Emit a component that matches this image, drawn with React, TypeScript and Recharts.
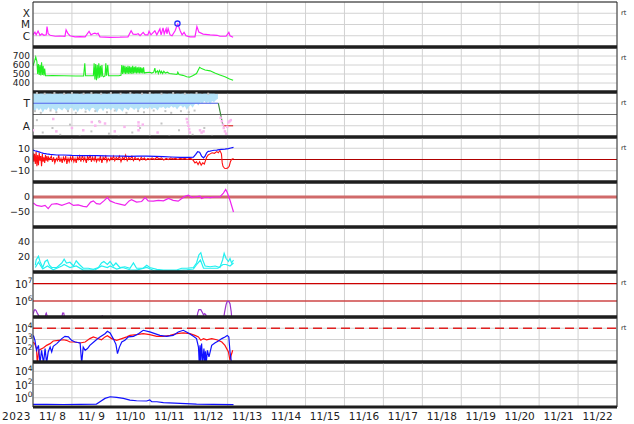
import { ComposedChart, Line, Area, Scatter, XAxis, YAxis, CartesianGrid, ReferenceLine } from 'recharts';

const FONT = '"DejaVu Sans", Verdana, sans-serif';
const W = 634;
const TOP = 1.7;
const PH = 45;
const PAD = 3;
const AXIS_H = 20;

const DAY_GRID = [0, 1, 2, 3, 4, 5, 6, 7, 8, 9, 10, 11, 12, 13, 14, 15];
const DATE_TICKS = [0.5, 1.5, 2.5, 3.5, 4.5, 5.5, 6.5, 7.5, 8.5, 9.5, 10.5, 11.5, 12.5, 13.5, 14.5];
const DATE_LABELS = ['11/ 8', '11/ 9', '11/10', '11/11', '11/12', '11/13', '11/14', '11/15', '11/16', '11/17', '11/18', '11/19', '11/20', '11/21', '11/22'];
const YEAR_LABEL = '2023';

type Pt = [number, number];

// panel 1: x-ray flux (W/m2), flare classes
const XRAY_TICKS = [1e-6, 1e-5, 1e-4];
const XRAY_LABELS = ['C', 'M', 'X'];
const XRAY: Pt[] = [
  [0, 1.2e-6], [0.05, 2.1e-6], [0.08, 1.2e-6], [0.13, 2.6e-6], [0.18, 1.1e-6], [0.23, 1.5e-6], [0.28, 1.1e-6],
  [0.34, 1.2e-6], [0.36, 6.6e-6], [0.39, 1.5e-6], [0.44, 1.1e-6], [0.57, 9e-7], [0.69, 9.5e-7], [0.82, 9e-7],
  [0.85, 3.3e-6], [0.9, 1.5e-6], [0.95, 1e-6], [1.08, 8e-7], [1.21, 8.5e-7], [1.34, 8e-7], [1.44, 2.5e-6],
  [1.49, 1.2e-6], [1.54, 1.5e-6], [1.59, 1.7e-6], [1.64, 1.4e-6], [1.67, 1.7e-6], [1.72, 8e-7], [1.98, 7.3e-7],
  [2.23, 7.5e-7], [2.44, 8e-7], [2.52, 2.8e-6], [2.57, 1.4e-6], [2.65, 1.3e-6], [2.7, 1.5e-6], [2.75, 1e-6],
  [2.83, 2e-6], [2.88, 1.2e-6], [2.95, 1.2e-6], [2.98, 2.5e-6], [3.03, 1.2e-6], [3.13, 2.8e-6], [3.18, 1.2e-6],
  [3.26, 4.1e-6], [3.29, 1.2e-6], [3.34, 5e-6], [3.37, 1.5e-6], [3.42, 4.1e-6], [3.44, 1.5e-6], [3.47, 4.3e-6],
  [3.52, 1.2e-6], [3.57, 1e-6], [3.65, 2.8e-6], [3.69, 6.6e-6], [3.72, 1.1e-5], [3.78, 2.8e-6], [3.83, 1.2e-6],
  [3.88, 2e-6], [3.93, 1e-6], [4.03, 8e-7], [4.16, 8e-7], [4.21, 6.6e-6], [4.26, 2.1e-6], [4.37, 1.4e-6],
  [4.55, 1.2e-6], [4.73, 1.1e-6], [4.8, 9e-7], [4.96, 9e-7], [5.03, 2e-6], [5.06, 1e-6], [5.14, 7.3e-7],
];
const FLARE_MARK: Pt[] = [[3.71, 1.2e-5]];

// panel 2: solar wind speed (km/s)
const WIND_TICKS = [400, 500, 600, 700];
const WIND: Pt[] = [
  [0, 590], [0.04, 640], [0.07, 690], [0.1, 640], [0.12, 500], [0.14, 610], [0.16, 490], [0.18, 600], [0.2, 485],
  [0.22, 630], [0.24, 490], [0.26, 590], [0.28, 485], [0.3, 560], [0.32, 480], [0.5, 482], [0.8, 480], [1.1, 478],
  [1.3, 478], [1.33, 620], [1.35, 480], [1.55, 482], [1.57, 620], [1.59, 440], [1.61, 610], [1.63, 430],
  [1.65, 600], [1.67, 450], [1.69, 620], [1.71, 460], [1.73, 590], [1.75, 470], [1.77, 600], [1.79, 480],
  [1.81, 470], [1.85, 480], [1.87, 620], [1.89, 482], [1.92, 600], [1.94, 482], [2.0, 480], [2.2, 480],
  [2.26, 485], [2.28, 600], [2.3, 500], [2.32, 595], [2.34, 505], [2.36, 590], [2.38, 500], [2.4, 580],
  [2.42, 505], [2.44, 590], [2.46, 500], [2.48, 585], [2.5, 505], [2.52, 580], [2.54, 500], [2.56, 590],
  [2.58, 505], [2.6, 580], [2.62, 510], [2.64, 585], [2.66, 505], [2.68, 575], [2.7, 510], [2.72, 580],
  [2.74, 505], [2.76, 575], [2.78, 510], [2.8, 570], [2.82, 505], [2.84, 575], [2.86, 510], [2.9, 515],
  [3.0, 520], [3.05, 510], [3.1, 520], [3.13, 565], [3.15, 515], [3.2, 535], [3.22, 505], [3.25, 540],
  [3.28, 510], [3.3, 530], [3.33, 505], [3.36, 530], [3.4, 510], [3.45, 520], [3.5, 505], [3.6, 500],
  [3.7, 495], [3.72, 520], [3.75, 495], [3.85, 485], [3.95, 470], [4.02, 465], [4.1, 480], [4.2, 505],
  [4.28, 575], [4.33, 560], [4.42, 545], [4.55, 535], [4.67, 510], [4.8, 490], [4.93, 470], [5.05, 445], [5.14, 430],
];

// panel 3: IMF sector (T / A)
const SECTOR_TICKS = [-1, 1];
const SECTOR_LABELS = ['A', 'T'];
const BAND: [number, number, number][] = [
  [0, 0.5, 1.95], [0.05, 0.25, 1.88], [0.1, 0.6, 1.92], [0.15, 0.35, 1.8], [0.2, 0.55, 1.95], [0.25, 0.15, 1.9],
  [0.3, 0.5, 1.85], [0.35, 0.4, 1.95], [0.4, 0.65, 1.88], [0.45, 0.3, 1.92], [0.5, 0.55, 1.8], [0.55, 0.45, 1.95],
  [0.6, 0.2, 1.9], [0.65, 0.6, 1.85], [0.7, 0.5, 1.95], [0.75, 0.35, 1.88], [0.8, 0.6, 1.92], [0.85, 0.45, 1.8],
  [0.9, 0.25, 1.95], [0.95, 0.55, 1.9], [1.0, 0.6, 1.85], [1.05, 0.3, 1.95], [1.1, 0.5, 1.88], [1.15, 0.2, 1.92],
  [1.2, 0.55, 1.8], [1.25, 0.45, 1.95], [1.3, 0.6, 1.9], [1.35, 0.35, 1.85], [1.4, 0.5, 1.95], [1.45, 0.25, 1.88],
  [1.5, 0.55, 1.92], [1.55, 0.6, 1.8], [1.6, 0.4, 1.95], [1.65, 0.15, 1.9], [1.7, 0.5, 1.85], [1.75, 0.55, 1.95],
  [1.8, 0.3, 1.88], [1.85, 0.6, 1.92], [1.9, 0.45, 1.8], [1.95, 0.55, 1.95], [2.0, 0.35, 1.9], [2.05, 0.6, 1.85],
  [2.1, 0.5, 1.95], [2.15, 0.2, 1.88], [2.2, 0.55, 1.92], [2.25, 0.45, 1.8], [2.3, 0.25, 1.95], [2.35, 0.6, 1.9],
  [2.4, 0.5, 1.85], [2.45, 0.35, 1.95], [2.5, 0.65, 1.88], [2.55, 0.55, 1.92], [2.6, 0.4, 1.8], [2.65, 0.6, 1.95],
  [2.7, 0.3, 1.9], [2.75, 0.55, 1.85], [2.8, 0.65, 1.95], [2.85, 0.45, 1.88], [2.9, 0.6, 1.92], [2.95, 0.5, 1.8],
  [3.0, 0.7, 1.95], [3.05, 0.45, 1.9], [3.1, 0.6, 1.85], [3.15, 0.55, 1.95], [3.2, 0.35, 1.88], [3.25, 0.65, 1.92],
  [3.3, 0.6, 1.8], [3.35, 0.7, 1.95], [3.4, 0.5, 1.9], [3.45, 0.65, 1.85], [3.5, 0.55, 1.95], [3.55, 0.75, 1.88],
  [3.6, 0.6, 1.92], [3.65, 0.7, 1.8], [3.7, 0.45, 1.95], [3.75, 0.7, 1.9], [3.8, 0.8, 1.85], [3.85, 0.6, 1.95],
  [3.9, 0.75, 1.88], [3.95, 0.4, 1.92], [4.0, 0.7, 1.8], [4.05, 0.85, 1.95], [4.1, 0.6, 1.9], [4.15, 0.9, 1.85],
  [4.2, 1.0, 1.95], [4.25, 0.8, 1.88], [4.3, 1.1, 1.92], [4.35, 0.95, 1.8], [4.4, 1.2, 1.95], [4.45, 1.0, 1.9],
  [4.5, 1.15, 1.85], [4.55, 0.9, 1.95], [4.6, 1.2, 1.88], [4.65, 1.1, 1.92], [4.7, 1.3, 1.8], [4.75, 1.4, 1.85],
];
const GREY_PTS: Pt[] = [
  [0.1, 1.9], [0.3, 1.85], [0.55, 1.9], [0.8, 1.85], [1.0, 1.9], [1.3, 1.85], [1.5, 1.9], [1.75, 1.85],
  [2.0, 1.9], [2.25, 1.85], [2.5, 1.9], [2.8, 1.85], [3.0, 1.9], [3.3, 1.85], [3.6, 1.9], [3.9, 1.85],
  [4.2, 1.9], [4.5, 1.85], [0.05, 0.3], [0.2, 0.15], [0.45, 0.35], [0.6, 0.2], [0.9, 0.3], [1.1, 0.15],
  [1.35, 0.25], [1.6, 0.3], [1.9, 0.2], [2.1, 0.35], [2.4, 0.15], [2.7, 0.3], [2.85, 0.2], [3.1, 0.35],
  [3.4, 0.3], [3.55, 0.15], [3.8, 0.3], [4.0, 0.2], [4.15, 0.35], [0.1, -0.5], [0.25, -1.6], [0.5, -1.2],
  [0.7, -1.8], [0.95, -0.9], [1.2, -1.9], [1.5, -1.5], [1.7, -0.6], [1.95, -1.7], [2.2, -1.9], [2.55, -1.6],
  [2.75, -1.2], [3.0, -1.9], [3.3, -0.8], [3.5, -1.9], [3.75, -1.4], [4.1, -1.8], [4.4, -1.2], [4.6, -1.9],
];
const PINK_PTS: Pt[] = [
  [0.0, -1.4], [0.52, -0.4], [0.6, -1.5], [1.0, -1.2], [1.29, -1.4], [1.51, -0.67], [1.6, -1.0], [1.72, -0.67],
  [1.85, -0.8], [2.1, -1.5], [2.35, -1.1], [2.71, -0.7], [2.71, -1.0], [2.71, -1.4], [2.82, -0.9], [3.2, -1.6],
  [3.95, -0.4], [3.97, -0.7], [3.99, -1.0], [4.01, -1.3], [4.03, -1.6], [4.29, -1.4], [4.33, -1.6], [4.38, -1.5],
  [4.82, -0.3], [4.85, -0.6], [4.88, -0.9], [4.9, -1.2], [4.93, -1.5], [4.96, -1.7], [4.99, -1.1], [5.02, -0.7],
  [5.05, -0.6], [5.08, -0.5],
];
const SECTOR_AWAY: Pt[] = [[0, 1], [4.76, 1]];
const SECTOR_SWITCH: Pt[] = [[4.76, 1], [4.88, -1]];
const SECTOR_TOWARD: Pt[] = [[4.88, -1], [5.14, -1]];

// panel 4: IMF Bt / Bz (nT)
const IMF_TICKS = [-10, 0, 10];
const BT: Pt[] = [
  [0, 8.4], [0.05, 7.8], [0.09, 7.5], [0.15, 6.8], [0.2, 6.2], [0.27, 5.5], [0.35, 5.0], [0.44, 4.6], [0.61, 4.0],
  [0.78, 4.0], [1.0, 3.6], [1.21, 3.4], [1.4, 3.5], [1.64, 3.4], [1.85, 3.2], [2.06, 3.1], [2.3, 3.0], [2.49, 2.8],
  [2.7, 3.0], [2.92, 3.0], [3.15, 2.7], [3.35, 2.5], [3.55, 2.2], [3.78, 1.9], [4.0, 1.9], [4.12, 2.0],
  [4.18, 4.5], [4.23, 7], [4.28, 6.5], [4.33, 3], [4.38, 1.5], [4.42, 3], [4.46, 6], [4.5, 7.2], [4.55, 7.5],
  [4.59, 7.8], [4.65, 8.2], [4.72, 8.4], [4.78, 8.8], [4.85, 9], [4.93, 9.2], [5.02, 9.6], [5.08, 10.2], [5.15, 10.8],
];
const BZ: Pt[] = [
  [0, 6], [0.02, -2], [0.04, 5], [0.06, -4], [0.08, 7], [0.1, -6], [0.12, 4], [0.14, -5], [0.16, 6], [0.18, -1],
  [0.2, 3], [0.22, -6], [0.24, 5], [0.26, -2], [0.28, 2], [0.3, -3], [0.32, 4], [0.34, -1], [0.36, 3], [0.38, -2],
  [0.4, 2], [0.43, 0], [0.47, 3], [0.5, -2], [0.53, 2], [0.56, -3], [0.6, 1], [0.63, -1], [0.66, 4], [0.69, -2],
  [0.72, 1], [0.75, -3], [0.78, 2], [0.81, -1], [0.84, 3], [0.87, -4], [0.9, 1], [0.93, -2], [0.96, 2], [0.99, -1],
  [1.02, 3], [1.05, -2], [1.08, 1], [1.11, -3], [1.14, 2], [1.17, 0], [1.2, 3], [1.23, -2], [1.27, 4], [1.3, -1],
  [1.33, 2], [1.37, -3], [1.4, 3], [1.43, 0], [1.47, 4], [1.5, -2], [1.53, 2], [1.57, -1], [1.6, 3], [1.63, -2],
  [1.67, 1], [1.7, -1], [1.73, 3], [1.77, -3], [1.8, 2], [1.83, 0], [1.87, 3], [1.9, -2], [1.93, 1], [1.97, -1],
  [2.0, 2], [2.03, 0], [2.07, 3], [2.1, -1], [2.14, 2], [2.18, 0], [2.22, 3], [2.26, -2], [2.3, 2], [2.34, 0],
  [2.38, 4], [2.42, -1], [2.46, 2], [2.5, 0], [2.54, 3], [2.58, -1], [2.62, 2], [2.66, 0], [2.7, 1], [2.74, -1],
  [2.78, 2], [2.82, 0], [2.86, 1.5], [2.9, -0.5], [2.95, 1], [3.0, 0], [3.06, 1.5], [3.12, 0], [3.18, 2],
  [3.24, 0.5], [3.3, 1.5], [3.36, -0.5], [3.42, 1], [3.48, 0], [3.54, 1.5], [3.6, 0.5], [3.66, 1], [3.72, 0],
  [3.78, 1], [3.84, 0.5], [3.9, 1], [3.96, 0], [4.02, 1], [4.08, 0.5], [4.12, -1], [4.16, -3], [4.2, -2],
  [4.24, -4.5], [4.28, -2], [4.32, -5], [4.36, -3], [4.4, -4], [4.43, -1], [4.46, 2], [4.5, 4], [4.55, 5],
  [4.6, 6], [4.66, 5.5], [4.72, 7], [4.76, 6], [4.8, 8], [4.84, 5], [4.86, -3], [4.88, -6], [4.92, -7.8],
  [4.96, -8], [5.0, -7.5], [5.04, -6], [5.07, -2], [5.1, 0], [5.15, 1],
];

// panel 5: Dst (nT)
const DST_TICKS = [-50, 0];
const DST: Pt[] = [
  [0.01, -20], [0.09, -28], [0.22, -31], [0.31, -28], [0.39, -39], [0.48, -24], [0.61, -22], [0.74, -28],
  [0.82, -24], [0.93, -19], [1.04, -28], [1.16, -26], [1.29, -31], [1.38, -33], [1.48, -17], [1.55, -13],
  [1.63, -22], [1.72, -24], [1.82, -13], [1.91, -2], [1.98, -13], [2.11, -20], [2.23, -24], [2.36, -28],
  [2.47, -13], [2.53, -9], [2.66, -17], [2.79, -15], [2.88, -2], [2.96, -13], [3.09, -14], [3.22, -11],
  [3.35, -13], [3.48, -5], [3.6, -11], [3.73, -14], [3.82, -5], [3.9, 2], [3.99, 6], [4.08, -2], [4.16, 0],
  [4.25, 2], [4.29, 3], [4.33, -5], [4.42, 0], [4.55, -2], [4.67, 0], [4.8, 0], [4.89, 13], [4.95, 25],
  [4.99, 15], [5.06, -11], [5.15, -50],
];

// panel 6: two cyan indices
const IDX_TICKS = [20, 40];
const IDX_A: Pt[] = [
  [0.06, 9], [0.08, 16], [0.14, 21], [0.18, 14], [0.25, 6], [0.31, 14], [0.37, 16], [0.42, 9], [0.48, 6],
  [0.61, 6], [0.74, 12], [0.8, 17], [0.86, 12], [0.95, 13], [1.04, 8], [1.11, 15], [1.19, 10], [1.29, 5],
  [1.42, 5], [1.55, 3.6], [1.68, 6], [1.76, 12], [1.82, 14], [1.91, 10], [1.98, 14], [2.06, 8], [2.13, 12],
  [2.23, 6], [2.36, 7], [2.49, 5], [2.58, 12], [2.66, 5], [2.83, 5], [2.92, 9], [3.0, 6], [3.18, 3.6],
  [3.35, 2.7], [3.52, 2.7], [3.69, 2.7], [3.82, 5], [3.95, 5], [4.12, 6], [4.2, 12], [4.26, 22.7], [4.31, 25.8],
  [4.36, 16], [4.42, 8], [4.55, 7], [4.68, 8], [4.8, 6], [4.87, 16], [4.91, 25], [4.96, 18], [5.02, 14],
  [5.06, 18], [5.1, 12], [5.15, 16],
];
const IDX_B: Pt[] = [
  [0.06, 6], [0.14, 13], [0.25, 4], [0.37, 8], [0.52, 3], [0.74, 8], [0.8, 10], [0.95, 6], [1.11, 8],
  [1.29, 2.5], [1.6, 3], [1.76, 8], [1.91, 6], [1.98, 8], [2.15, 4], [2.3, 6], [2.49, 3], [2.66, 2.5],
  [2.92, 6], [3.1, 2], [3.35, 1.5], [3.7, 2], [3.95, 3], [4.12, 4], [4.22, 11], [4.3, 16], [4.38, 5],
  [4.55, 5], [4.75, 5], [4.88, 10], [4.96, 10], [5.06, 8], [5.15, 12],
];

// panel 7: proton flux
const PROTON_TICKS = [1e6, 1e7];
const PROTON: Pt[] = [
  [0, 1.6e5], [0.03, 2.8e5], [0.05, 3.2e5], [0.08, 2.8e5], [0.11, 2e5], [0.15, 1.4e5], [0.18, 8e4],
  [0.3, 8e4], [0.33, 1.8e5], [0.34, 2e5], [0.37, 1.26e5], [0.39, 8e4], [0.73, 8e4], [0.76, 2e5], [0.79, 2e5],
  [0.81, 1.1e5], [0.84, 8e4], [1.76, 8e4], [1.78, 1.5e5], [1.81, 8e4], [4.2, 8e4], [4.23, 2e5], [4.26, 3.2e5],
  [4.31, 3.2e5], [4.35, 2.2e5], [4.38, 1.6e5], [4.41, 1.9e5], [4.44, 1.6e5], [4.47, 8e4], [4.89, 8e4],
  [4.92, 2.2e5], [4.96, 6.3e5], [4.99, 9.5e5], [5.03, 9.5e5], [5.06, 7e5], [5.09, 2.5e5], [5.11, 8e4],
];

// panel 8: electron flux
const ELEC_TICKS = [1e2, 1e3, 1e4];
const ELEC_BLUE: Pt[] = [
  [0.01, 2300], [0.05, 850], [0.09, 110], [0.14, 300], [0.18, 8], [0.22, 110], [0.27, 8], [0.31, 155], [0.35, 8],
  [0.39, 78], [0.44, 210], [0.48, 78], [0.52, 250], [0.61, 430], [0.74, 1200], [0.82, 1900], [0.91, 1700],
  [0.99, 850], [1.08, 600], [1.21, 490], [1.25, 8], [1.29, 210], [1.34, 110], [1.4, 155], [1.46, 300],
  [1.59, 740], [1.72, 1700], [1.85, 3300], [1.91, 5400], [1.98, 3800], [2.06, 1200], [2.13, 370], [2.17, 56],
  [2.22, 210], [2.28, 600], [2.36, 850], [2.45, 1700], [2.58, 1900], [2.71, 3300], [2.83, 6600], [3.0, 4700],
  [3.13, 3300], [3.26, 2300], [3.43, 1900], [3.6, 2300], [3.73, 4700], [3.86, 6600], [3.99, 3800], [4.12, 1900],
  [4.2, 1200], [4.25, 210], [4.27, 8], [4.29, 300], [4.31, 8], [4.33, 430], [4.36, 8], [4.39, 155], [4.41, 8],
  [4.43, 90], [4.45, 8], [4.48, 110], [4.52, 28], [4.59, 300], [4.67, 490], [4.76, 740], [4.85, 1200],
  [4.93, 1700], [4.99, 2300], [5.03, 1700], [5.06, 78], [5.1, 8],
];
const ELEC_RED: Pt[] = [
  [0.01, 600], [0.05, 370], [0.09, 155], [0.11, 8], [0.15, 110], [0.18, 126], [0.27, 186], [0.35, 300],
  [0.44, 430], [0.52, 740], [0.65, 850], [0.78, 950], [0.86, 850], [0.95, 600], [1.08, 600], [1.21, 490],
  [1.34, 600], [1.46, 1200], [1.55, 1700], [1.63, 1350], [1.76, 950], [1.85, 1700], [1.91, 2200], [2.02, 1200],
  [2.15, 850], [2.28, 1200], [2.41, 1700], [2.49, 2300], [2.66, 2700], [2.83, 3300], [3.0, 2700], [3.18, 1900],
  [3.35, 1900], [3.52, 2300], [3.69, 3300], [3.86, 3800], [4.03, 3300], [4.16, 2300], [4.25, 1700], [4.31, 850],
  [4.38, 1200], [4.46, 950], [4.59, 1200], [4.72, 950], [4.85, 600], [4.93, 300], [5.02, 78], [5.06, 14],
  [5.09, 40], [5.13, 110],
];

// panel 9: high energy flux
const HE_TICKS = [1, 1e2, 1e4];
const HE_FLUX: Pt[] = [
  [0, 0.1], [0.35, 0.1], [0.78, 0.095], [1.21, 0.1], [1.63, 0.11], [1.72, 0.25], [1.85, 0.8], [1.98, 1.4],
  [2.15, 1.15], [2.32, 0.8], [2.49, 0.45], [2.66, 0.35], [2.92, 0.32], [3.0, 0.45], [3.05, 0.25], [3.18, 0.25],
  [3.35, 0.18], [3.78, 0.14], [4.2, 0.11], [4.63, 0.1], [5.15, 0.09],
];

const RT_PANELS = [0, 1, 2, 3, 6, 7];

const pts = (a: Pt[]) => a.map(([t, v]) => ({ t, v }));

const minus = (v: number) => (v < 0 ? '\u2212' + Math.abs(v) : String(v));

function makeTextTick(fmt: (v: number) => string, size = 9.5) {
  return ({ x, y, payload }: any) => (
    <text x={x} y={y} dy="0.36em" textAnchor="end" fontSize={size} fontFamily={FONT} fill="#222">
      {fmt(payload.value)}
    </text>
  );
}

function SupTick({ x, y, payload }: any) {
  const e = Math.round(Math.log10(payload.value));
  return (
    <text x={x + 2.5} y={y + 4} textAnchor="end" fontSize={10} fontFamily={FONT} fill="#222">
      10<tspan dy={-4.3} fontSize={7.5}>{e}</tspan>
    </text>
  );
}

function DateTick({ x, y, payload }: any) {
  const i = DATE_TICKS.indexOf(payload.value);
  return (
    <g>
      {i === 0 && (
        <text x={2} y={y + 12.6} textAnchor="start" fontSize={10.5} letterSpacing={0.6} fontFamily={FONT} fill="#222">
          {YEAR_LABEL}
        </text>
      )}
      <text x={x} y={y + 12.6} textAnchor="middle" fontSize={10.5} fontFamily={FONT} fill="#222" style={{ whiteSpace: 'pre' }}>
        {DATE_LABELS[i]}
      </text>
    </g>
  );
}

const dot = (color: string, s: number) => (p: any) => (
  <rect x={p.cx - s / 2} y={p.cy - s / 2} width={s} height={s} fill={color} />
);

function Panel({ i, domain, ticks, log, tick, data, axis, children }: any) {
  const h = PH + PAD + (axis ? AXIS_H : PAD);
  return (
    <div style={{ position: 'absolute', left: 0, top: TOP + PH * i - PAD }}>
      <ComposedChart width={W} height={h} data={data} margin={{ top: PAD, right: 17, bottom: axis ? 0 : PAD, left: 0 }}>
        {axis ? (
          <XAxis type="number" dataKey="t" domain={[0, 15]} ticks={DATE_TICKS} interval={0} allowDataOverflow
            axisLine={false} tickLine={false} tickSize={0} tickMargin={0} height={AXIS_H} tick={DateTick} />
        ) : (
          <XAxis type="number" dataKey="t" domain={[0, 15]} ticks={DAY_GRID} interval={0} hide height={0} allowDataOverflow />
        )}
        <YAxis type="number" domain={domain} ticks={ticks} interval={0} scale={log ? 'log' : 'linear'} allowDataOverflow
          width={33} axisLine={false} tickLine={false} tickSize={0} tickMargin={3} tick={tick} />
        <CartesianGrid stroke="#d2d2d2" strokeWidth={1} vertical={!axis} />
        {axis && DAY_GRID.map((d) => <ReferenceLine key={'g' + d} x={d} stroke="#d2d2d2" />)}
        {children}
        <ReferenceLine x={0} stroke="#333" ifOverflow="visible" />
        <ReferenceLine x={15} stroke="#333" ifOverflow="visible" />
        <ReferenceLine y={domain[1]} stroke="#1e1e1e" strokeWidth={i === 0 ? 1 : 3} ifOverflow="visible" />
        <ReferenceLine y={domain[0]} stroke="#1e1e1e" strokeWidth={3} ifOverflow="visible" />
      </ComposedChart>
    </div>
  );
}

export default function App() {
  const band = BAND.map(([t, lo, hi]) => ({ t, band: [lo, hi] }));
  return (
    <div style={{ position: 'absolute', left: 0, top: 0, width: W, height: 424, background: '#fff', overflow: 'hidden' }}>
      <Panel i={0} domain={[1e-7, 1e-3]} ticks={XRAY_TICKS} log
        tick={makeTextTick((v) => XRAY_LABELS[XRAY_TICKS.findIndex((u) => Math.abs(u - v) / u < 1e-6)] ?? '', 10.5)}>
        <Line data={pts(XRAY)} dataKey="v" stroke="#ff22ff" strokeWidth={1.2} dot={false} isAnimationActive={false} />
        <Scatter data={pts(FLARE_MARK)} dataKey="v" isAnimationActive={false}
          shape={(p: any) => <circle cx={p.cx} cy={p.cy} r={2.6} fill="none" stroke="#2233ff" strokeWidth={1.3} />} />
      </Panel>

      <Panel i={1} domain={[300, 800]} ticks={WIND_TICKS} tick={makeTextTick(minus, 9)}>
        <Line data={pts(WIND)} dataKey="v" stroke="#22ee22" strokeWidth={1.1} dot={false} isAnimationActive={false} />
      </Panel>

      <Panel i={2} domain={[-2, 2]} ticks={SECTOR_TICKS} data={band}
        tick={makeTextTick((v) => SECTOR_LABELS[SECTOR_TICKS.indexOf(v)] ?? '', 10.5)}>
        <Area dataKey="band" type="linear" stroke="none" fill="#acdff7" fillOpacity={0.9} isAnimationActive={false} />
        <Scatter data={pts(GREY_PTS)} dataKey="v" shape={dot('#c4c4c4', 2)} isAnimationActive={false} />
        <Scatter data={pts(PINK_PTS)} dataKey="v" shape={dot('#f9b6ee', 2.5)} isAnimationActive={false} />
        <ReferenceLine y={0} stroke="#666" strokeWidth={1} />
        <Line data={pts(SECTOR_AWAY)} dataKey="v" stroke="#5566ee" strokeWidth={1.2} dot={false} isAnimationActive={false} />
        <Line data={pts(SECTOR_SWITCH)} dataKey="v" stroke="#3a8a3a" strokeWidth={1.2} dot={false} isAnimationActive={false} />
        <Line data={pts(SECTOR_TOWARD)} dataKey="v" stroke="#e03030" strokeWidth={1.2} dot={false} isAnimationActive={false} />
      </Panel>

      <Panel i={3} domain={[-20, 20]} ticks={IMF_TICKS} tick={makeTextTick(minus)}>
        <ReferenceLine y={0} stroke="#b00000" strokeWidth={1} />
        <Line data={pts(BZ)} dataKey="v" stroke="#ff1010" strokeWidth={1.1} dot={false} isAnimationActive={false} />
        <Line data={pts(BT)} dataKey="v" stroke="#1010ff" strokeWidth={1.2} dot={false} isAnimationActive={false} />
      </Panel>

      <Panel i={4} domain={[-100, 50]} ticks={DST_TICKS} tick={makeTextTick(minus)}>
        <ReferenceLine y={0} stroke="#d06a6a" strokeWidth={3} />
        <Line data={pts(DST)} dataKey="v" stroke="#ee22ee" strokeWidth={1.2} dot={false} isAnimationActive={false} />
      </Panel>

      <Panel i={5} domain={[0, 60]} ticks={IDX_TICKS} tick={makeTextTick(minus)}>
        <Line data={pts(IDX_B)} dataKey="v" stroke="#22f0f0" strokeWidth={1.2} dot={false} isAnimationActive={false} />
        <Line data={pts(IDX_A)} dataKey="v" stroke="#22f0f0" strokeWidth={1.2} dot={false} isAnimationActive={false} />
      </Panel>

      <Panel i={6} domain={[1.2e5, 4.7e7]} ticks={PROTON_TICKS} log tick={SupTick}>
        <ReferenceLine y={1e6} stroke="#cc0000" strokeWidth={1.2} />
        <ReferenceLine y={1e7} stroke="#cc0000" strokeWidth={1.2} />
        <Line data={pts(PROTON)} dataKey="v" stroke="#9933cc" strokeWidth={1.2} dot={false} isAnimationActive={false} />
      </Panel>

      <Panel i={7} domain={[10, 1e5]} ticks={ELEC_TICKS} log tick={SupTick}>
        <ReferenceLine y={1e4} stroke="#e02020" strokeWidth={1.5} strokeDasharray="9 5" />
        <Line data={pts(ELEC_RED)} dataKey="v" stroke="#ff1010" strokeWidth={1.2} dot={false} isAnimationActive={false} />
        <Line data={pts(ELEC_BLUE)} dataKey="v" stroke="#1010ff" strokeWidth={1.2} dot={false} isAnimationActive={false} />
      </Panel>

      <Panel i={8} domain={[0.04, 2.5e5]} ticks={HE_TICKS} log tick={SupTick} axis>
        <Line data={pts(HE_FLUX)} dataKey="v" stroke="#1010ff" strokeWidth={1.2} dot={false} isAnimationActive={false} />
      </Panel>

      {RT_PANELS.map((p) => (
        <div key={p} style={{ position: 'absolute', left: 621, top: TOP + PH * p + 8, fontSize: 6.5, fontFamily: FONT, color: '#222', lineHeight: '7px' }}>
          rt
        </div>
      ))}
    </div>
  );
}
